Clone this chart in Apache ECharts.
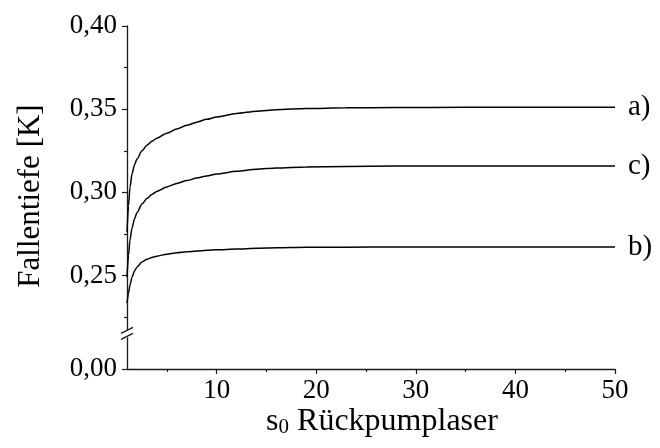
<!DOCTYPE html>
<html>
<head>
<meta charset="utf-8">
<script src="https://cdn.jsdelivr.net/npm/echarts@6/dist/echarts.min.js"></script>
<style>
html,body{margin:0;padding:0;background:#fff;}
#chart{width:660px;height:448px;}
</style>
</head>
<body>
<div id="chart"></div>
<script>
// ---- data ----
const sValues = [1, 1.15, 1.3, 1.5, 1.75, 2, 2.5, 3, 3.5, 4, 5, 6, 7, 8, 9, 10, 12, 14, 16, 19, 23, 28, 35, 42, 50];
const curveA = [0.2760, 0.2920, 0.3030, 0.3110, 0.3165, 0.3200, 0.3250, 0.3283, 0.3307, 0.3326, 0.3356, 0.3381, 0.3403, 0.3422, 0.3439, 0.3453, 0.3474, 0.3488, 0.3497, 0.3504, 0.3508, 0.3510, 0.3511, 0.3512, 0.3512];
const curveC = [0.2490, 0.2620, 0.2715, 0.2785, 0.2840, 0.2878, 0.2930, 0.2963, 0.2988, 0.3006, 0.3033, 0.3054, 0.3071, 0.3086, 0.3099, 0.3110, 0.3127, 0.3139, 0.3147, 0.3153, 0.3156, 0.3158, 0.3158, 0.3158, 0.3158];
const curveB = [0.2335, 0.2395, 0.2443, 0.2490, 0.2527, 0.2552, 0.2582, 0.2598, 0.2609, 0.2617, 0.2629, 0.2637, 0.2643, 0.2648, 0.2652, 0.2655, 0.2660, 0.2664, 0.2667, 0.2670, 0.2671, 0.2672, 0.2672, 0.2672, 0.2672];
const seriesNames = ['a)', 'c)', 'b)'];
const xMajorTicks = [10, 20, 30, 40, 50];
const xMinorTicks = [5, 15, 25, 35, 45];
const yMajorTicks = [0.25, 0.30, 0.35, 0.40];
const yMinorTicks = [0.225, 0.275, 0.325, 0.375];
const yLowTicks = [0.00];
const xTitle = 'Rückpumplaser';
const yTitle = 'Fallentiefe [K]';

const FONT = 'Liberation Serif, Times New Roman, serif';
const AX = '#1a1a1a';
const fmt = v => v.toFixed(2).replace('.', ',');

const chart = echarts.init(document.getElementById('chart'), null, {renderer: 'canvas'});

const pxPerUnit = 1664;
const upperMin = 0.2175, upperMax = 0.40;
const lowerMin = 0, lowerMax = 31 / pxPerUnit;

const lineSeries = [curveA, curveC, curveB].map((arr, i) => ({
  type: 'line',
  name: seriesNames[i],
  xAxisIndex: 0,
  yAxisIndex: 0,
  data: sValues.map((s, j) => [s, arr[j]]),
  showSymbol: false,
  smooth: 0.25,
  smoothMonotone: 'x',
  lineStyle: {color: '#000', width: 1.5},
  endLabel: {show: true, formatter: seriesNames[i], distance: 13, fontFamily: FONT, fontSize: 29, color: '#000'},
  emphasis: {disabled: true},
  animation: false
}));

chart.setOption({
  animation: false,
  grid: [
    {left: 127, width: 488, top: 26, height: (upperMax - upperMin) * pxPerUnit},
    {left: 127, width: 488, top: 338, height: 31}
  ],
  xAxis: [
    {gridIndex: 0, type: 'value', min: 1, max: 50, show: false},
    {gridIndex: 1, type: 'value', min: 1, max: 50, position: 'bottom',
      axisLine: {show: true, lineStyle: {color: AX, width: 1.3}},
      axisTick: {show: true, inside: false, length: 5, customValues: xMajorTicks, lineStyle: {color: AX, width: 1.2}},
      axisLabel: {show: true, customValues: xMajorTicks, margin: 8, fontFamily: FONT, fontSize: 27, color: '#000'},
      splitLine: {show: false}},
    {gridIndex: 1, type: 'value', min: 1, max: 50, position: 'bottom',
      axisLine: {show: false},
      axisTick: {show: true, inside: false, length: 3, customValues: xMinorTicks, lineStyle: {color: AX, width: 1.2}},
      axisLabel: {show: false},
      splitLine: {show: false}}
  ],
  yAxis: [
    {gridIndex: 0, type: 'value', min: upperMin, max: upperMax,
      axisLine: {show: true, lineStyle: {color: AX, width: 1.3}},
      axisTick: {show: true, inside: false, length: 5, customValues: yMajorTicks, lineStyle: {color: AX, width: 1.2}},
      axisLabel: {show: true, customValues: yMajorTicks, formatter: fmt, margin: 10, fontFamily: FONT, fontSize: 27, color: '#000'},
      splitLine: {show: false}},
    {gridIndex: 0, type: 'value', min: upperMin, max: upperMax, position: 'left',
      axisLine: {show: false},
      axisTick: {show: true, inside: false, length: 3, customValues: yMinorTicks, lineStyle: {color: AX, width: 1.2}},
      axisLabel: {show: false},
      splitLine: {show: false}},
    {gridIndex: 1, type: 'value', min: lowerMin, max: lowerMax,
      axisLine: {show: true, lineStyle: {color: AX, width: 1.3}},
      axisTick: {show: true, inside: false, length: 5, customValues: yLowTicks, lineStyle: {color: AX, width: 1.2}},
      axisLabel: {show: true, customValues: yLowTicks, formatter: fmt, margin: 10, fontFamily: FONT, fontSize: 27, color: '#000'},
      splitLine: {show: false}}
  ],
  series: lineSeries
});

// axis break marks and titles
const axX = chart.convertToPixel({xAxisIndex: 1}, 1);
const topLow = chart.convertToPixel({yAxisIndex: 2}, lowerMax);
const botUp = chart.convertToPixel({yAxisIndex: 0}, upperMin);
const midB = (topLow + botUp) / 2;
const xMid = (chart.convertToPixel({xAxisIndex: 1}, 1) + chart.convertToPixel({xAxisIndex: 1}, 50)) / 2;

chart.setOption({
  graphic: [
    {type: 'line', shape: {x1: axX - 6, y1: midB - 0.5, x2: axX + 6, y2: midB - 6.5}, style: {stroke: AX, lineWidth: 1.3}},
    {type: 'line', shape: {x1: axX - 6, y1: midB + 5.5, x2: axX + 6, y2: midB - 0.5}, style: {stroke: AX, lineWidth: 1.3}},
    {type: 'text', x: 31, y: 196, rotation: Math.PI / 2,
      style: {text: yTitle, fontFamily: FONT, fontSize: 31, fill: '#000', align: 'center', verticalAlign: 'middle'}},
    {type: 'text', x: xMid + 11, y: 422,
      style: {text: '{s|s}{sub|0}{t| ' + xTitle + '}', align: 'center', verticalAlign: 'middle',
        rich: {
          s: {fontFamily: FONT, fontSize: 32, fill: '#000'},
          sub: {fontFamily: FONT, fontSize: 21, fill: '#000', verticalAlign: 'bottom', padding: [14, 0, 0, 0], lineHeight: 32},
          t: {fontFamily: FONT, fontSize: 32, fill: '#000'}
        }}}
  ]
});
</script>
</body>
</html>
